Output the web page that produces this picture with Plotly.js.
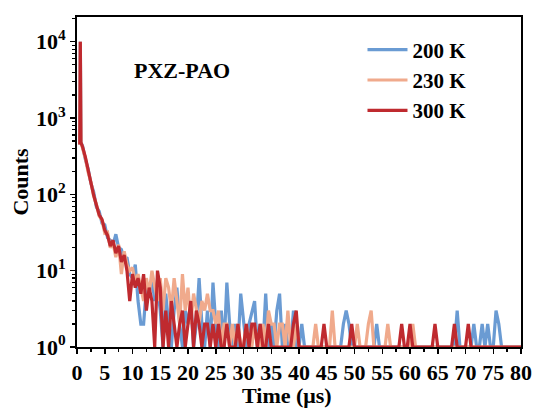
<!DOCTYPE html>
<html>
<head>
<meta charset="utf-8">
<script src="https://cdn.plot.ly/plotly-3.0.1.min.js"></script>
<style>html,body{margin:0;padding:0;background:#fff;}#chart{width:537px;height:408px;}</style>
</head>
<body>
<div id="chart"></div>
<script>
// Time axis (µs): three samples around the excitation spike, then 0.5 µs bins
var timeUs = [0.5, 0.6, 0.7,
  1, 1.5, 2, 2.5, 3, 3.5, 4, 4.5, 5, 5.5,
  6, 6.5, 7, 7.5, 8, 8.5, 9, 9.5, 10, 10.5,
  11, 11.5, 12, 12.5, 13, 13.5, 14, 14.5, 15, 15.5,
  16, 16.5, 17, 17.5, 18, 18.5, 19, 19.5, 20, 20.5,
  21, 21.5, 22, 22.5, 23, 23.5, 24, 24.5, 25, 25.5,
  26, 26.5, 27, 27.5, 28, 28.5, 29, 29.5, 30, 30.5,
  31, 31.5, 32, 32.5, 33, 33.5, 34, 34.5, 35, 35.5,
  36, 36.5, 37, 37.5, 38, 38.5, 39, 39.5, 40, 40.5,
  41, 41.5, 42, 42.5, 43, 43.5, 44, 44.5, 45, 45.5,
  46, 46.5, 47, 47.5, 48, 48.5, 49, 49.5, 50, 50.5,
  51, 51.5, 52, 52.5, 53, 53.5, 54, 54.5, 55, 55.5,
  56, 56.5, 57, 57.5, 58, 58.5, 59, 59.5, 60, 60.5,
  61, 61.5, 62, 62.5, 63, 63.5, 64, 64.5, 65, 65.5,
  66, 66.5, 67, 67.5, 68, 68.5, 69, 69.5, 70, 70.5,
  71, 71.5, 72, 72.5, 73, 73.5, 74, 74.5, 75, 75.5,
  76, 76.5, 77, 77.5, 78, 78.5, 79, 79.5, 80];

var counts200K = [450, 10000, 480,
  430, 290, 215, 140, 108, 68, 60, 42, 40, 27,
  25, 22, 30, 20, 19, 14, 15, 9, 8, 12,
  4, 2, 2, 6, 5, 8, 4, 6, 3, 1,
  5, 2, 1, 3, 6, 2, 1, 3, 2, 4,
  1, 2, 8, 2, 1, 3, 1, 7, 2, 1,
  3, 1, 7, 2, 1, 2, 1, 5, 2, 1,
  2, 3, 4, 1, 2, 1, 5, 1, 2, 1,
  3, 5, 1, 2, 1, 1, 3, 1, 1, 2,
  1, 1, 1, 1, 1, 1, 1, 1, 1, 1,
  1, 1, 1, 1, 2, 3, 2, 1, 1, 1,
  1, 1, 1, 1, 1, 1, 2, 1, 1, 1,
  1, 1, 1, 1, 1, 1, 1, 1, 1, 1,
  1, 1, 1, 1, 1, 1, 1, 1, 1, 1,
  1, 1, 1, 1, 1, 3, 1, 1, 1, 1,
  1, 2, 1, 1, 2, 1, 2, 1, 1, 3,
  2, 1, 1, 1, 1, 1, 1, 1, 1];

var counts230K = [450, 10000, 480,
  410, 300, 195, 145, 95, 74, 52, 46, 31, 32,
  20, 23, 15, 22, 9, 18, 12, 10, 11, 7,
  9, 6, 4, 8, 5, 10, 6, 4, 8, 3,
  8, 6, 3, 8, 4, 2, 9, 3, 6, 2,
  5, 3, 2, 4, 3, 5, 3, 3, 2, 3,
  1, 2, 2, 1, 2, 1, 2, 1, 1, 2,
  1, 1, 2, 1, 1, 2, 1, 3, 2, 2,
  1, 2, 2, 1, 3, 1, 1, 2, 1, 1,
  1, 1, 1, 1, 2, 1, 1, 1, 1, 1,
  3, 1, 1, 1, 1, 1, 1, 1, 1, 2,
  1, 1, 1, 2, 3, 1, 1, 1, 1, 1,
  2, 1, 1, 1, 1, 1, 1, 1, 1, 2,
  1, 1, 1, 1, 1, 1, 1, 1, 1, 1,
  1, 1, 1, 1, 1, 1, 1, 1, 1, 1,
  1, 1, 1, 1, 1, 1, 1, 1, 1, 1,
  1, 1, 1, 1, 1, 1, 1, 1, 1];

var counts300K = [450, 10000, 480,
  420, 310, 205, 150, 98, 72, 54, 47, 34, 29,
  21, 25, 17, 21, 13, 16, 10, 4, 9, 6,
  8, 5, 9, 3, 6, 4, 1, 10, 6, 1,
  3, 1, 4, 2, 1, 2, 3, 1, 2, 4,
  1, 3, 2, 1, 2, 2, 1, 2, 1, 2,
  1, 1, 2, 1, 1, 1, 2, 1, 1, 2,
  1, 2, 2, 1, 2, 1, 1, 2, 1, 1,
  1, 1, 1, 1, 1, 1, 2, 3, 1, 1,
  1, 1, 1, 1, 1, 1, 1, 2, 1, 1,
  1, 1, 1, 1, 1, 1, 1, 2, 1, 1,
  1, 1, 1, 1, 1, 1, 1, 1, 1, 1,
  1, 1, 1, 1, 1, 2, 1, 1, 2, 1,
  1, 1, 1, 1, 1, 1, 1, 2, 1, 1,
  1, 1, 1, 1, 2, 1, 1, 1, 1, 2,
  1, 1, 1, 1, 1, 1, 1, 1, 1, 1,
  1, 1, 1, 1, 1, 1, 1, 1, 1];

var seriesNames = ['200 K', '230 K', '300 K'];
var seriesColors = ['#6a9bd3', '#f0aa8c', '#bf2a2f'];

var xTickVals = [0, 5, 10, 15, 20, 25, 30, 35, 40, 45, 50, 55, 60, 65, 70, 75, 80];
var xTickText = ['0', '5', '10', '15', '20', '25', '30', '35', '40', '45', '50', '55', '60', '65', '70', '75', '80'];
var yTickVals = [1, 10, 100, 1000, 10000];
var yTickExp = ['0', '1', '2', '3', '4'];

var yMinor = [];
[1, 10, 100, 1000, 10000].forEach(function (d) {
  [2, 3, 4, 5, 6, 7, 8, 9].forEach(function (m) { yMinor.push(d * m); });
});

var fontFam = 'Liberation Serif, Times New Roman, serif';
var allCounts = [counts200K, counts230K, counts300K];
var traces = allCounts.map(function (c, i) {
  return {
    x: timeUs, y: c, type: 'scatter', mode: 'lines', name: '<b>' + seriesNames[i] + '</b>',
    line: {color: seriesColors[i], width: 3.2}
  };
});

var layout = {
  width: 537, height: 408,
  margin: {l: 77, r: 16, t: 17, b: 61, pad: 0},
  paper_bgcolor: '#ffffff', plot_bgcolor: '#ffffff',
  font: {family: fontFam, size: 22, color: '#000'},
  showlegend: true,
  legend: {x: 0.643, y: 0.962, xanchor: 'left', yanchor: 'top', bgcolor: 'rgba(0,0,0,0)', itemwidth: 40,
           font: {family: fontFam, size: 21, color: '#000'}, tracegroupgap: 0},
  xaxis: {
    range: [0, 80], tickmode: 'array', tickvals: xTickVals,
    ticktext: xTickText.map(function (s) { return '<b>' + s + '</b>'; }),
    ticks: 'outside', ticklen: 5, tickwidth: 1.5, tickcolor: '#000',
    showline: true, linewidth: 2, linecolor: '#000', mirror: true,
    showgrid: false, zeroline: false,
    tickfont: {family: fontFam, size: 22, color: '#000'},
    minor: {ticks: 'outside', ticklen: 3, tickwidth: 1.5, tickcolor: '#000', tick0: 0, dtick: 2.5, showgrid: false}
  },
  yaxis: {
    type: 'log', range: [0, 4.324], tickmode: 'array', tickvals: yTickVals,
    ticktext: yTickExp.map(function (e) { return '<b>10<sup>' + e + '</sup></b>'; }),
    ticks: 'outside', ticklen: 5, tickwidth: 1.5, tickcolor: '#000',
    showline: true, linewidth: 2, linecolor: '#000', mirror: true,
    showgrid: false, zeroline: false,
    tickfont: {family: fontFam, size: 22, color: '#000'},
    minor: {ticks: 'outside', ticklen: 3, tickwidth: 1.2, tickcolor: '#000', tickmode: 'array', tickvals: yMinor, showgrid: false},
    title: {text: '<b>Counts</b>', font: {family: fontFam, size: 22, color: '#000'}, standoff: 1}
  },
  annotations: [
    {text: '<b>PXZ-PAO</b>', xref: 'paper', yref: 'paper', x: 0.2365, y: 0.837, xanchor: 'center', yanchor: 'middle',
     showarrow: false, font: {family: fontFam, size: 22, color: '#000'}},
    {text: '<b>Time (μs)</b>', xref: 'paper', yref: 'paper', x: 0.472, y: -0.148, xanchor: 'center', yanchor: 'middle',
     showarrow: false, font: {family: fontFam, size: 22, color: '#000'}}
  ]
};

Plotly.newPlot('chart', traces, layout, {displayModeBar: false, staticPlot: true});
</script>
</body>
</html>
